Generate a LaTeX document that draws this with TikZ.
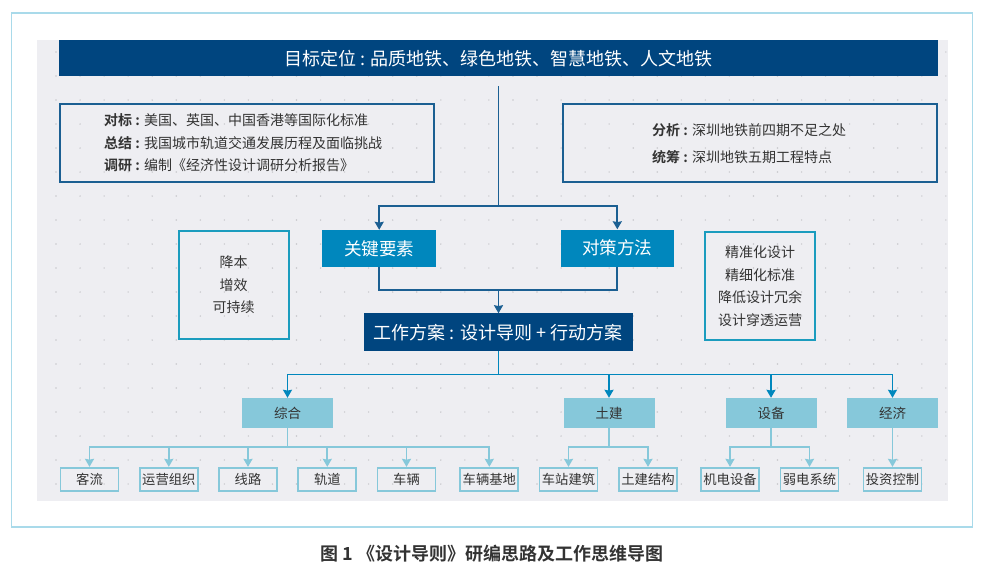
\documentclass[tikz,border=0pt]{standalone}
\usepackage{fontspec}
\setmainfont{Noto Sans CJK SC}[BoldFont={* Bold}]
\usetikzlibrary{arrows.meta}
\definecolor{navy}{HTML}{00457F}
\definecolor{midblue}{HTML}{0087BD}
\definecolor{paleblue}{HTML}{86C8DA}
\definecolor{panelgray}{HTML}{EEEEF2}
\definecolor{framecol}{HTML}{A9DAEA}
\definecolor{boxline}{HTML}{1B5F92}
\definecolor{tealline}{HTML}{1B9CBE}
\definecolor{inktext}{HTML}{333333}
\definecolor{dotcol}{HTML}{C8C8CC}
\newcommand{\sz}[2]{\fontsize{#1}{#2}\selectfont}
\tikzset{
  barnode/.style={fill=navy,text=white,inner sep=0pt,font=\sz{18}{21}},
  keynode/.style={fill=midblue,text=white,minimum width=113.5,minimum height=37,inner sep=0pt,font=\sz{17.6}{20}},
  framenode/.style={draw=boxline,line width=2pt,inner sep=0pt},
  tealnode/.style={draw=tealline,line width=2pt,minimum width=110,minimum height=107.5,inner sep=0pt,text=inktext,align=center,font=\sz{14}{22.6}},
  catnode/.style={fill=paleblue,text=inktext,minimum width=91,minimum height=30,inner sep=0pt,font=\sz{13.5}{16}},
  itemnode/.style={draw=paleblue,line width=1.8pt,minimum width=58,minimum height=23.5,inner sep=0pt,text=inktext,font=\sz{13.3}{16}},
  infotext/.style={text=inktext,inner sep=0pt,align=left,anchor=west},
  darkline/.style={draw=boxline,line width=1.7pt},
  midline/.style={draw=midblue,line width=1.7pt},
  paleline/.style={draw=paleblue,line width=1.7pt},
}
\begin{document}
\begin{tikzpicture}[x=1pt,y=-1pt,>={Stealth[length=8pt,width=9pt,inset=0.8pt]}]
\useasboundingbox (0,0) rectangle (984,574);
\fill[white] (0,0) rectangle (984,574);
\draw[framecol,line width=1.3pt] (11.5,13) rectangle (972.5,527);
\fill[panelgray] (37,40) rectangle (948,500.5);
% dots of the panel
\foreach \i in {0,...,37}
  \foreach \j in {0,...,18}
    \fill[dotcol] ({56+24.05*\i},{52+24*\j}) circle (0.8);
% top bar and the two frames
\node[barnode,minimum width=879,minimum height=36.5] (goal) at (498.5,58.2) {目标定位 : 品质地铁、绿色地铁、智慧地铁、人文地铁};
\node[framenode,minimum width=374,minimum height=78.5] (bench) at (247.3,143) {};
\node[framenode,minimum width=374.5,minimum height=78.5] (study) at (749.8,143) {};
\node[infotext,font=\sz{14}{22.5}] (benchtext) at (104,143) {\textbf{对标 :} 美国、英国、中国香港等国际化标准\\\textbf{总结 :} 我国城市轨道交通发展历程及面临挑战\\\textbf{调研 :} 编制《经济性设计调研分析报告》};
\node[infotext,font=\sz{14}{27.5}] (studytext) at (652,143.5) {\textbf{分析 :} 深圳地铁前四期不足之处\\\textbf{统筹 :} 深圳地铁五期工程特点};
% middle row
\node[keynode] (key) at (379.2,248.5) {关键要素};
\node[keynode] (method) at (617.3,248) {对策方法};
\node[tealnode] (cost) at (233.5,284.8) {降本\\增效\\可持续};
\node[tealnode,minimum height=108.5] (fine) at (760,286) {精准化设计\\精细化标准\\降低设计冗余\\设计穿透运营};
\node[barnode,minimum width=269,minimum height=37.5] (plan) at (498,332.2) {工作方案 : 设计导则 + 行动方案};
% second level
\node[catnode] (zonghe) at (287.5,413) {综合};
\node[catnode] (tujian) at (609,413) {土建};
\node[catnode] (shebei) at (771,413) {设备};
\node[catnode] (jingji) at (892.5,413) {经济};
% third level
\node[itemnode] (keliu) at (89.5,479.5) {客流};
\node[itemnode] (yunying) at (168.8,479.5) {运营组织};
\node[itemnode] (xianlu) at (248,479.5) {线路};
\node[itemnode] (guidao) at (327.3,479.5) {轨道};
\node[itemnode] (cheliang) at (406.5,479.5) {车辆};
\node[itemnode] (jidi) at (489.3,479.5) {车辆基地};
\node[itemnode] (chezhan) at (568.5,479.5) {车站建筑};
\node[itemnode] (jiegou) at (648,479.5) {土建结构};
\node[itemnode] (jidian) at (730,479.5) {机电设备};
\node[itemnode] (ruodian) at (809.5,479.5) {弱电系统};
\node[itemnode] (touzi) at (892.5,479.5) {投资控制};
% connectors
\coordinate (trunktop) at (498.5,86);
\coordinate (split) at (498.5,206);
\coordinate (merge) at (498.5,290);
\coordinate (fork) at (498.5,374.5);
\coordinate (zhfork) at (287.5,447.3);
\coordinate (tjfork) at (609,447.3);
\coordinate (sbfork) at (771,447.3);
\draw[darkline] (trunktop)--(split);
\draw[darkline,->] (split)-|(key.north);
\draw[darkline,->] (split)-|(method.north);
\draw[darkline] (key.south)|-(merge);
\draw[darkline] (method.south)|-(merge);
\draw[darkline,->] (merge)--(merge|-plan.north);
\draw[midline] (merge|-plan.south)--(fork);
\foreach \n in {zonghe,tujian,shebei,jingji}
  \draw[midline,->] (fork)-|(\n.north);
\draw[paleline] (zonghe.south)--(zhfork);
\draw[paleline] (tujian.south)--(tjfork);
\draw[paleline] (shebei.south)--(sbfork);
\foreach \n in {keliu,yunying,xianlu,guidao,cheliang,jidi}
  \draw[paleline,->] (zhfork)-|(\n.north);
\foreach \n in {chezhan,jiegou}
  \draw[paleline,->] (tjfork)-|(\n.north);
\foreach \n in {jidian,ruodian}
  \draw[paleline,->] (sbfork)-|(\n.north);
\draw[paleline,->] (jingji.south)--(touzi.north);
% caption
\node[text=inktext,inner sep=0pt,font=\sz{18}{20}\bfseries] (caption) at (492,554) {图 1 《设计导则》研编思路及工作思维导图};
\end{tikzpicture}
\end{document}
